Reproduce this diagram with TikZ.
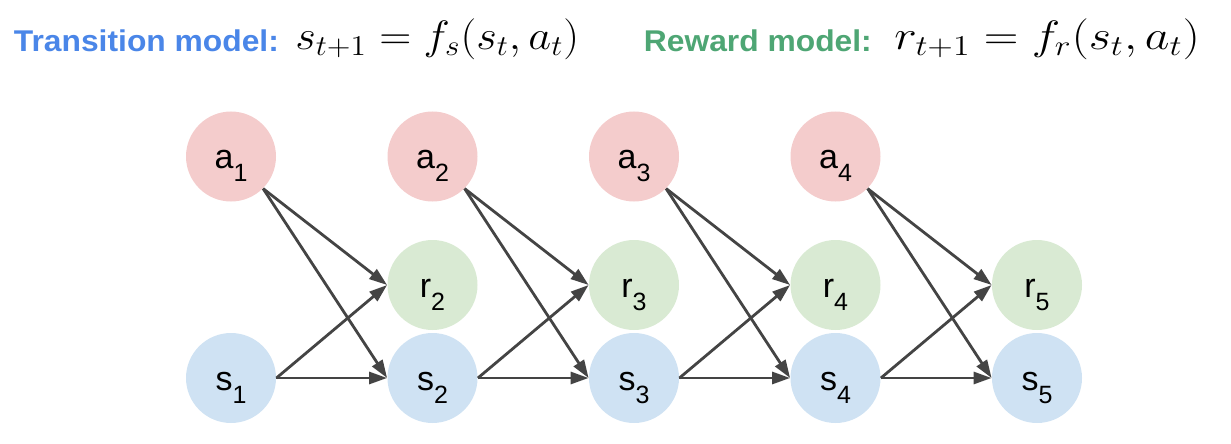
\RequirePackage{fix-cm}
\documentclass[tikz,border=0pt]{standalone}
\usepackage[no-math]{fontspec}
\usepackage{graphicx}
\usetikzlibrary{arrows.meta}
\newfontfamily\nodefont{Liberation Sans}
\newfontfamily\headfont[FakeStretch=1.06]{Liberation Sans}
\definecolor{actfill}{HTML}{F4CCCC}
\definecolor{rewfill}{HTML}{D9EAD3}
\definecolor{stfill}{HTML}{CFE2F3}
\definecolor{edge}{HTML}{444444}
\definecolor{headblue}{HTML}{4A86E8}
\definecolor{headgreen}{HTML}{4EA674}
\newcommand{\sublab}[2]{#1\raisebox{-6.7pt}{\fontsize{12.5}{14}\selectfont #2}}
\tikzset{
  var/.style={circle, minimum size=45pt, inner sep=0pt, text height=14pt, text depth=2pt,
    font=\nodefont\fontsize{17}{20}\selectfont},
  act/.style={var, fill=actfill},
  rew/.style={var, fill=rewfill},
  st/.style={var, fill=stfill},
  arr/.style={draw=edge, line width=1.4pt, -{Triangle[length=9pt,width=6pt]}},
  head/.style={anchor=base west, inner sep=0pt, font=\headfont\bfseries\fontsize{15}{18}\selectfont},
  eqn/.style={anchor=base west, inner sep=0pt, font=\fontsize{20.5}{24}\selectfont},
}
\begin{document}
\begin{tikzpicture}[x=0.5pt,y=-0.5pt]
  \useasboundingbox (0,0) rectangle (1231,444);
  \node[head,text=headblue] (trans) at (13.5,51.5) {Transition model:};
  \node[eqn] (transeq) at (295,49.5) {\scalebox{1.085}[1]{$s_{t+1} = f_s(s_t, a_t)$}};
  \node[head,text=headgreen] (reward) at (643.5,51.5) {Reward model:};
  \node[eqn] (rewardeq) at (894,49.5) {\scalebox{1.17}[1]{$r_{t+1} = f_r(s_t, a_t)$}};

  \foreach \t in {1,...,4}{
    \node[act] (a\t) at ({231+201.5*(\t-1)},156.5) {\sublab{a}{\t}};
  }
  \foreach \t in {2,...,5}{
    \node[rew] (r\t) at ({231+201.5*(\t-1)},285) {\sublab{r}{\t}};
  }
  \foreach \t in {1,...,5}{
    \node[st] (s\t) at ({231+201.5*(\t-1)},378) {\sublab{s}{\t}};
  }
  \foreach \t/\n in {1/2,2/3,3/4,4/5}{
    \draw[arr] (a\t.-45) -- (r\n.west);
    \draw[arr] (a\t.-45) -- (s\n.west);
    \draw[arr] (s\t.east) -- (r\n.west);
    \draw[arr] (s\t.east) -- (s\n.west);
  }
\end{tikzpicture}
\end{document}
